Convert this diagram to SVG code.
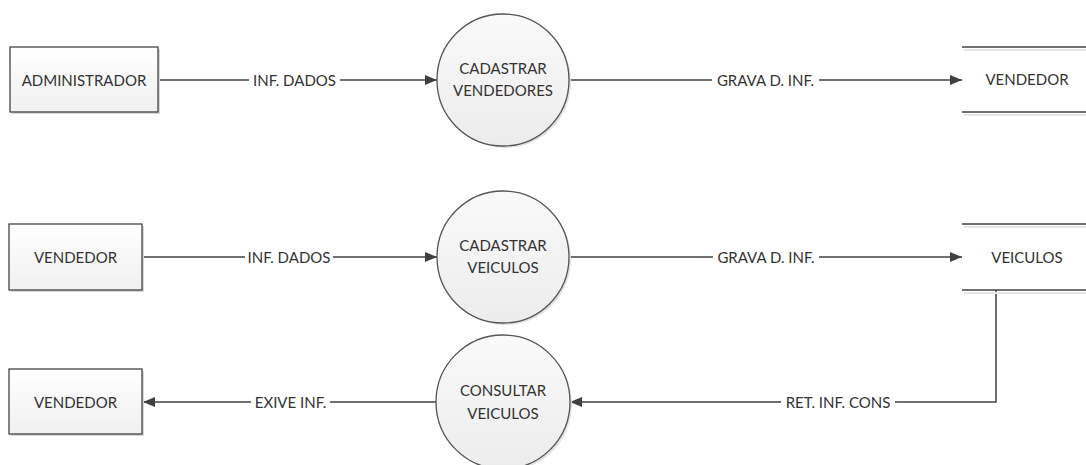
<svg xmlns="http://www.w3.org/2000/svg" width="1086" height="465" viewBox="0 0 1086 465">
<style>
.t{font-family:Lato,"Open Sans","Liberation Sans",sans-serif;font-size:15px;fill:#333;text-anchor:middle}
.box{fill:url(#gb);stroke:#444;stroke-width:1.3}
.sh{fill:#d8d8d8}
.proc{fill:url(#gc);stroke:#555;stroke-width:1.3}
.ln{fill:none;stroke:#404040;stroke-width:1.5}
.lb{fill:#fff}
.st{stroke:#404040;stroke-width:1.6}
.sts{stroke:#e6e6e6;stroke-width:2}
</style>
<defs>
<linearGradient id="gb" x1="0" y1="0" x2="0" y2="1"><stop offset="0" stop-color="#ffffff"/><stop offset="1" stop-color="#f0f0f0"/></linearGradient>
<linearGradient id="gc" x1="0" y1="0" x2="0" y2="1"><stop offset="0" stop-color="#fafafa"/><stop offset="1" stop-color="#ececec"/></linearGradient>
<marker id="ar" viewBox="0 0 12 10" refX="12" refY="5" markerWidth="12" markerHeight="10" markerUnits="userSpaceOnUse" orient="auto"><path d="M0,0 L12,5 L0,10 Z" fill="#404040"/></marker>
</defs>
<g id="connectors">
<path class="ln" d="M158,80 H437" marker-end="url(#ar)"/>
<path class="ln" d="M569,80 H962" marker-end="url(#ar)"/>
<path class="ln" d="M142,257 H437" marker-end="url(#ar)"/>
<path class="ln" d="M570,257 H962" marker-end="url(#ar)"/>
<path class="ln" d="M437,402 H143" marker-end="url(#ar)"/>
<path class="ln" d="M996,290 V402 H570" marker-end="url(#ar)"/>
<rect class="lb" x="249" y="72" width="91" height="16"/><text class="t" x="294.5" y="85.5">INF. DADOS</text>
<rect class="lb" x="712" y="72" width="107" height="16"/><text class="t" x="765.5" y="85.5">GRAVA D. INF.</text>
<rect class="lb" x="245" y="249" width="88" height="16"/><text class="t" x="289" y="262.5">INF. DADOS</text>
<rect class="lb" x="251" y="394" width="79" height="16"/><text class="t" x="290.5" y="407.5">EXIVE INF.</text>
<rect class="lb" x="713" y="249" width="106" height="16"/><text class="t" x="766" y="262.5">GRAVA D. INF.</text>
<rect class="lb" x="781" y="394" width="114" height="16"/><text class="t" x="838" y="407.5">RET. INF. CONS</text>
</g>
<g id="ext-administrador">
<rect class="sh" x="12" y="49" width="148" height="65"/>
<rect class="box" x="10" y="47" width="148" height="65"/>
<text class="t" x="84" y="85.5">ADMINISTRADOR</text>
</g>
<g id="ext-vendedor-1">
<rect class="sh" x="11" y="226" width="133" height="66"/>
<rect class="box" x="9" y="224" width="133" height="66"/>
<text class="t" x="75.5" y="262.5">VENDEDOR</text>
</g>
<g id="ext-vendedor-2">
<rect class="sh" x="11" y="371" width="133" height="65"/>
<rect class="box" x="9" y="369" width="133" height="65"/>
<text class="t" x="75.5" y="407.5">VENDEDOR</text>
</g>
<g id="proc-cadastrar-vendedores">
<circle cx="505" cy="82" r="66" fill="#e2e2e2"/>
<circle class="proc" cx="503" cy="80" r="66"/>
<text class="t" x="503" y="73.5">CADASTRAR</text>
<text class="t" x="503" y="95.5">VENDEDORES</text>
</g>
<g id="proc-cadastrar-veiculos">
<circle cx="505" cy="259" r="66" fill="#e2e2e2"/>
<circle class="proc" cx="503" cy="257" r="66"/>
<text class="t" x="503" y="250.5">CADASTRAR</text>
<text class="t" x="503" y="272.5">VEICULOS</text>
</g>
<g id="proc-consultar-veiculos">
<circle cx="505" cy="404" r="67" fill="#e2e2e2"/>
<circle class="proc" cx="503" cy="402" r="67"/>
<text class="t" x="503" y="395.5">CONSULTAR</text>
<text class="t" x="503" y="418.5">VEICULOS</text>
</g>
<g id="store-vendedor">
<line class="sts" x1="964" y1="50" x2="1086" y2="50"/>
<line class="sts" x1="964" y1="115" x2="1086" y2="115"/>
<line class="st" x1="962" y1="47" x2="1086" y2="47"/>
<line class="st" x1="962" y1="112" x2="1086" y2="112"/>
<text class="t" x="1027" y="84.5">VENDEDOR</text>
</g>
<g id="store-veiculos">
<line class="sts" x1="964" y1="227" x2="1086" y2="227"/>
<line class="sts" x1="964" y1="293" x2="1086" y2="293"/>
<line class="st" x1="962" y1="224" x2="1086" y2="224"/>
<line class="st" x1="962" y1="290" x2="1086" y2="290"/>
<text class="t" x="1027" y="262.5">VEICULOS</text>
</g>
</svg>
